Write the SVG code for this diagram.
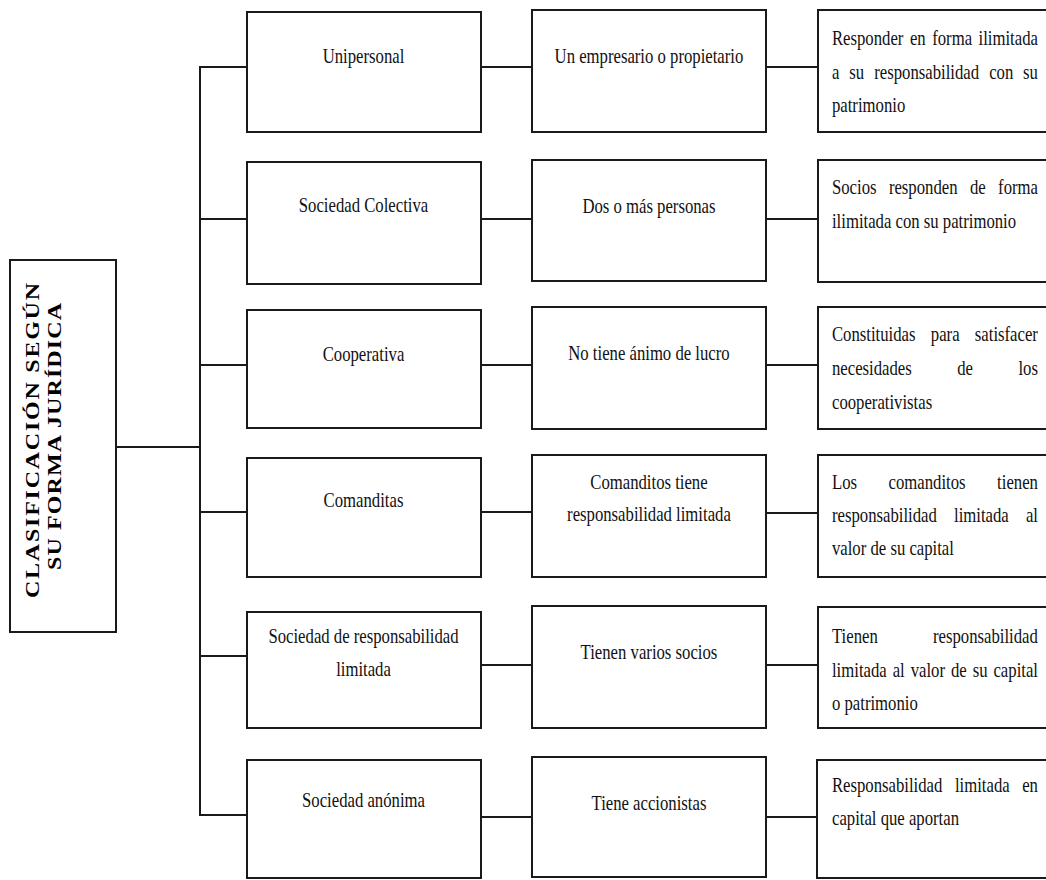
<svg xmlns="http://www.w3.org/2000/svg" width="1046" height="880" viewBox="0 0 1046 880">
<style>
rect{fill:#fff;stroke:#1a1a1a;stroke-width:2}
.k line{stroke:#1a1a1a;stroke-width:2}
text{font-family:"Liberation Serif","Times New Roman",serif;font-size:22px;fill:#111}
.c{text-anchor:middle}
.ttl{font-weight:bold;font-size:24px;fill:#000}
</style>
<rect x="-5" y="-5" width="1060" height="890" style="stroke:none"/>
<g id="connectors" class="k">
<line x1="116" y1="447" x2="200" y2="447"/>
<line x1="200" y1="66" x2="200" y2="816"/>
<line x1="200" y1="67" x2="247" y2="67"/>
<line x1="200" y1="219" x2="247" y2="219"/>
<line x1="200" y1="365" x2="247" y2="365"/>
<line x1="200" y1="512" x2="247" y2="512"/>
<line x1="200" y1="656" x2="247" y2="656"/>
<line x1="200" y1="815" x2="247" y2="815"/>
<line x1="481" y1="67" x2="532" y2="67"/>
<line x1="481" y1="219" x2="532" y2="219"/>
<line x1="481" y1="365" x2="532" y2="365"/>
<line x1="481" y1="512" x2="532" y2="512"/>
<line x1="481" y1="665" x2="532" y2="665"/>
<line x1="481" y1="817" x2="532" y2="817"/>
<line x1="766" y1="67" x2="818" y2="67"/>
<line x1="766" y1="219" x2="818" y2="219"/>
<line x1="766" y1="365" x2="818" y2="365"/>
<line x1="766" y1="513" x2="818" y2="513"/>
<line x1="766" y1="665" x2="818" y2="665"/>
<line x1="766" y1="817" x2="818" y2="817"/>
</g>
<g id="title">
<rect x="10" y="260" width="106" height="372"/>
<text class="ttl" transform="translate(39,598) scale(0.76,1) rotate(-90)" x="0" y="0" textLength="315" lengthAdjust="spacing">CLASIFICACIÓN SEGÚN</text>
<text class="ttl" transform="translate(61,570) scale(0.76,1) rotate(-90)" x="0" y="0" textLength="267" lengthAdjust="spacing">SU FORMA JURÍDICA</text>
</g>
<g id="unipersonal">
<rect x="247" y="12" width="234" height="120"/>
<text class="c" transform="scale(0.76,1)" x="478.3" y="63">Unipersonal</text>
</g>
<g id="un-empresario">
<rect x="532" y="10" width="234" height="122"/>
<text class="c" transform="scale(0.76,1)" x="853.9" y="63">Un empresario o propietario</text>
</g>
<g id="responder-ilimitada">
<rect x="818" y="10" width="240" height="122"/>
<text transform="scale(0.76,1)"><tspan x="1094.7" y="45">Responder</tspan><tspan x="1197.3" y="45">en</tspan><tspan x="1226.6" y="45">forma</tspan><tspan x="1287.6" y="45">ilimitada</tspan><tspan x="1094.7" y="79">a</tspan><tspan x="1117.6" y="79">su</tspan><tspan x="1150.3" y="79">responsabilidad</tspan><tspan x="1301.5" y="79">con</tspan><tspan x="1346.2" y="79">su</tspan><tspan x="1094.7" y="112">patrimonio</tspan></text>
</g>
<g id="sociedad-colectiva">
<rect x="247" y="162" width="234" height="122"/>
<text class="c" transform="scale(0.76,1)" x="478.3" y="212">Sociedad Colectiva</text>
</g>
<g id="dos-o-mas">
<rect x="532" y="160" width="234" height="121"/>
<text class="c" transform="scale(0.76,1)" x="853.9" y="213">Dos o más personas</text>
</g>
<g id="socios-responden">
<rect x="818" y="160" width="240" height="122"/>
<text transform="scale(0.76,1)"><tspan x="1094.7" y="194">Socios</tspan><tspan x="1169.6" y="194">responden</tspan><tspan x="1276.2" y="194">de</tspan><tspan x="1313.3" y="194">forma</tspan><tspan x="1094.7" y="228">ilimitada con su patrimonio</tspan></text>
</g>
<g id="cooperativa">
<rect x="247" y="310" width="234" height="118"/>
<text class="c" transform="scale(0.76,1)" x="478.3" y="361">Cooperativa</text>
</g>
<g id="sin-lucro">
<rect x="532" y="307" width="234" height="122"/>
<text class="c" transform="scale(0.76,1)" x="853.9" y="360">No tiene ánimo de lucro</text>
</g>
<g id="constituidas">
<rect x="818" y="307" width="240" height="122"/>
<text transform="scale(0.76,1)"><tspan x="1094.7" y="341">Constituidas</tspan><tspan x="1224.8" y="341">para</tspan><tspan x="1282.7" y="341">satisfacer</tspan><tspan x="1094.7" y="375">necesidades</tspan><tspan x="1259.5" y="375">de</tspan><tspan x="1340.1" y="375">los</tspan><tspan x="1094.7" y="409">cooperativistas</tspan></text>
</g>
<g id="comanditas">
<rect x="247" y="458" width="234" height="119"/>
<text class="c" transform="scale(0.76,1)" x="478.3" y="507">Comanditas</text>
</g>
<g id="comanditos-tiene">
<rect x="532" y="455" width="234" height="122"/>
<text class="c" transform="scale(0.76,1)"><tspan x="853.9" y="489">Comanditos tiene</tspan><tspan x="853.9" y="521">responsabilidad limitada</tspan></text>
</g>
<g id="los-comanditos">
<rect x="818" y="455" width="240" height="122"/>
<text transform="scale(0.76,1)"><tspan x="1094.7" y="489">Los</tspan><tspan x="1169.2" y="489">comanditos</tspan><tspan x="1312" y="489">tienen</tspan><tspan x="1094.7" y="522">responsabilidad</tspan><tspan x="1255.3" y="522">limitada</tspan><tspan x="1349.9" y="522">al</tspan><tspan x="1094.7" y="555">valor de su capital</tspan></text>
</g>
<g id="srl">
<rect x="247" y="612" width="234" height="116"/>
<text class="c" transform="scale(0.76,1)"><tspan x="478.3" y="643">Sociedad de responsabilidad</tspan><tspan x="478.3" y="676">limitada</tspan></text>
</g>
<g id="varios-socios">
<rect x="532" y="606" width="234" height="122"/>
<text class="c" transform="scale(0.76,1)" x="853.9" y="659">Tienen varios socios</text>
</g>
<g id="tienen-responsabilidad">
<rect x="818" y="607" width="240" height="121"/>
<text transform="scale(0.76,1)"><tspan x="1094.7" y="643">Tienen</tspan><tspan x="1227.7" y="643">responsabilidad</tspan><tspan x="1094.7" y="677">limitada</tspan><tspan x="1174.6" y="677">al</tspan><tspan x="1198.2" y="677">valor</tspan><tspan x="1251.2" y="677">de</tspan><tspan x="1279.8" y="677">su</tspan><tspan x="1307.2" y="677">capital</tspan><tspan x="1094.7" y="710">o patrimonio</tspan></text>
</g>
<g id="sociedad-anonima">
<rect x="247" y="760" width="234" height="118"/>
<text class="c" transform="scale(0.76,1)" x="478.3" y="807">Sociedad anónima</text>
</g>
<g id="accionistas">
<rect x="532" y="757" width="234" height="120"/>
<text class="c" transform="scale(0.76,1)" x="853.9" y="810">Tiene accionistas</text>
</g>
<g id="responsabilidad-capital">
<rect x="817" y="760" width="240" height="118"/>
<text transform="scale(0.76,1)"><tspan x="1094.7" y="792">Responsabilidad</tspan><tspan x="1256.5" y="792">limitada</tspan><tspan x="1345" y="792">en</tspan><tspan x="1094.7" y="825">capital que aportan</tspan></text>
</g>
</svg>
